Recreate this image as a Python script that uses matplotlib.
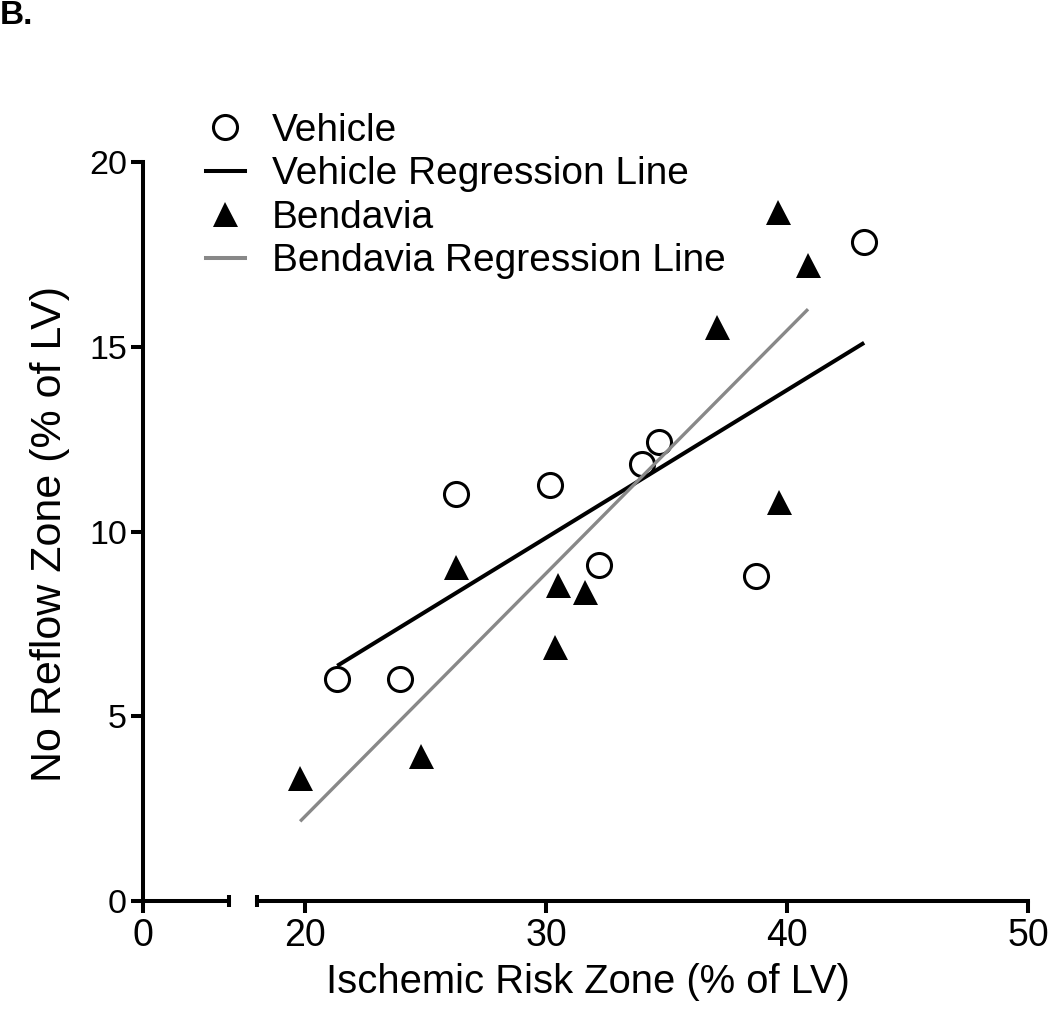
import numpy as np
import matplotlib
matplotlib.use("Agg")
import matplotlib.pyplot as plt
from matplotlib.lines import Line2D

plt.rcParams['font.family'] = ['Liberation Sans', 'DejaVu Sans']

# data
vehicle_x = [43.2, 21.33, 23.94, 26.27, 30.17, 32.2, 33.98, 34.69, 38.71]
vehicle_y = [17.84, 6.01, 6.01, 11.01, 11.26, 9.09, 11.83, 12.42, 8.80]
bendavia_x = [19.79, 24.81, 26.27, 30.50, 31.62, 30.37, 39.63, 40.87, 37.10, 39.67]
bendavia_y = [3.33, 3.92, 9.04, 8.55, 8.36, 6.87, 18.65, 17.21, 15.53, 10.80]

y_ticks = [0, 5, 10, 15, 20]
x_ticks_left = [0]
x_ticks_right = [20, 30, 40, 50]

W, H = 1050, 1014
fig = plt.figure(figsize=(W / 100, H / 100), dpi=100)

# pixel boxes of the two axis segments
def px_axes(x0, x1, ytop, ybot):
    return fig.add_axes([x0 / W, 1 - ybot / H, (x1 - x0) / W, (ybot - ytop) / H])

ax1 = px_axes(143, 229, 162, 901)
ax2 = px_axes(257, 1028, 162, 901)

lw_axis = 2.9

# left segment (0 .. break)
ax1.set_xlim(0, 3.57)
ax1.set_ylim(0, 20)
ax1.spines['top'].set_visible(False)
ax1.spines['right'].set_visible(False)
ax1.spines['left'].set_linewidth(lw_axis)
ax1.spines['bottom'].set_linewidth(lw_axis)
ax1.set_yticks(y_ticks)
ax1.set_xticks(x_ticks_left)
ax1.set_xticks([3.57], minor=True)
ax1.tick_params(axis='both', which='major', direction='out', length=8.6, width=lw_axis)
ax1.tick_params(axis='y', labelsize=24.5, pad=3)
ax1.tick_params(axis='x', which='major', labelsize=27, pad=3.5)
ax1.tick_params(axis='x', which='minor', direction='inout', length=8.6, width=lw_axis)
ax1.tick_params(axis='y', which='minor', left=False)
ax1.patch.set_alpha(0)

# right segment (18 .. 50)
ax2.set_xlim(18, 50)
ax2.set_ylim(0, 20)
for s in ['top', 'right', 'left']:
    ax2.spines[s].set_visible(False)
ax2.spines['bottom'].set_linewidth(lw_axis)
ax2.set_yticks([])
ax2.set_xticks(x_ticks_right)
ax2.set_xticks([18], minor=True)
ax2.tick_params(axis='x', which='major', direction='out', length=8.6, width=lw_axis,
                labelsize=27, pad=3.5)
ax2.tick_params(axis='x', which='minor', direction='inout', length=8.6, width=lw_axis)
ax2.patch.set_alpha(0)

# points
ax2.plot(vehicle_x, vehicle_y, 'o', ms=17.3, mfc='white', mec='black', mew=2.2,
         ls='none', clip_on=False, zorder=2)
ax2.plot(bendavia_x, bendavia_y, '^', ms=18, mfc='black', mec='black', mew=0,
         ls='none', clip_on=False, zorder=2)

# regression lines over the data range
vx = np.array(vehicle_x)
bx = np.array(bendavia_x)
pv = np.polyfit(vx, vehicle_y, 1)
pb = np.polyfit(bx, bendavia_y, 1)
xv = np.array([vx.min(), vx.max()])
xb = np.array([bx.min(), bx.max()])
ax2.plot(xv, np.polyval(pv, xv), color='black', lw=2.9, solid_capstyle='butt', zorder=3)
ax2.plot(xb, np.polyval(pb, xb), color='#888888', lw=2.4, solid_capstyle='butt', zorder=3)

# legend
handles = [
    Line2D([], [], marker='o', ls='none', ms=17.3, mfc='white', mec='black', mew=2.2),
    Line2D([], [], color='black', lw=2.9),
    Line2D([], [], marker='^', ls='none', ms=18, mfc='black', mec='black', mew=0),
    Line2D([], [], color='#888888', lw=2.9),
]
labels = ['Vehicle', 'Vehicle Regression Line', 'Bendavia', 'Bendavia Regression Line']
fig.legend(handles, labels, loc='upper left', bbox_to_anchor=(206 / W, 1 - 113 / H),
           frameon=False, fontsize=28, handlelength=1.0, handletextpad=0.7,
           labelspacing=0.19, borderpad=0, borderaxespad=0)

# axis titles
fig.text(588 / W, 1 - 982 / H, 'Ischemic Risk Zone (% of LV)', ha='center', va='center',
         fontsize=28.8)
fig.text(50 / W, 1 - 534 / H, 'No Reflow Zone (% of LV)', ha='center', va='center',
         rotation=90, fontsize=31)
fig.text(0.0, 1 - 24 / H, 'B.', ha='left', va='baseline', fontsize=24, fontweight='bold')

fig.savefig('out.png', dpi=100)
